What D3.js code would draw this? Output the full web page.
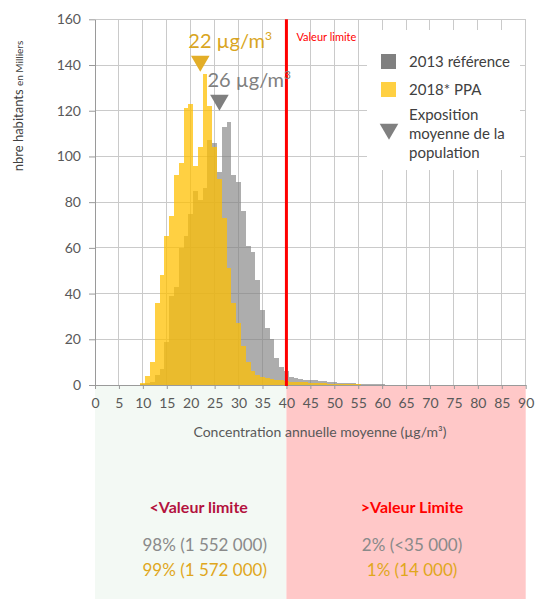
<!DOCTYPE html>
<html>
<head>
<meta charset="utf-8">
<script src="https://cdn.jsdelivr.net/npm/d3@7/dist/d3.min.js"></script>
<style>
  html, body { margin: 0; padding: 0; background: #fff; }
  svg { display: block; font-family: Lato, "Open Sans", sans-serif; }
</style>
</head>
<body>
<svg id="chart" width="536" height="599"></svg>
<script>
// Concentration bins (µg/m³), one per unit, centred on the value
const concentration = [
  0,1,2,3,4,5,6,7,8,9,10,11,12,13,14,15,16,17,18,19,20,21,22,23,24,25,26,27,28,29,
  30,31,32,33,34,35,36,37,38,39,40,41,42,43,44,45,46,47,48,49,50,51,52,53,54,55,56,57,58,59,
  60,61,62,63,64,65,66,67,68,69,70,71,72,73,74,75,76,77,78,79,80,81,82,83,84,85,86,87,88,89,90
];

// Inhabitants (thousands) per bin, 2013 reference
const pop2013 = [
  0,0,0,0,0,0,0,0,0,0,
  0.3,0.8,1.5,4.5,7,19,39,43,60,65,
  75,85,81,86,107,106,93,113,115,92,
  89,76,61,58,46,33,25,20,12,8,
  6,3.5,3,2.6,2.4,2.2,2,1.8,1.6,1.4,
  1.2,1,0.9,0.8,0.7,0.6,0.5,0.5,0.4,0.4,
  0.3,0.2,0.2,0.2,0.2,0.2,0.2,0.2,0.2,0.2,
  0.2,0.2,0.2,0.2,0.2,0.2,0.2,0.2,0.2,0.2,
  0.2,0.2,0.2,0.2,0.2,0.2,0.2,0.2,0.2,0.2,0.2
];

// Inhabitants (thousands) per bin, 2018 with the PPA
const pop2018 = [
  0,0,0,0,0,0,0,0,0,0,
  1,4,10,36,48,65,74,92,97,121,
  123,96,104,136,122,104,90,73,51,36,
  27,17,10,6,4.5,3.5,3,2.5,2.2,2,
  1.8,1.5,1.3,1.2,1.1,1,0.9,0.8,0.7,0.6,
  0.5,0.4,0.4,0.4,0.4,0.4,0.1,0.1,0.1,0.1,
  0.1,0.1,0.1,0.1,0.1,0.1,0.1,0.1,0.1,0.1,
  0.1,0.1,0.1,0.1,0.1,0.1,0.1,0.1,0.1,0.1,
  0.1,0.1,0.1,0.1,0.1,0.1,0.1,0.1,0.1,0.1,0.1
];

// Mean population exposure
const meanLabels = ["2013 référence", "2018* PPA"];
const meanExposure = [26, 22];

const limitValue = 40;
const xTicks = [0,5,10,15,20,25,30,35,40,45,50,55,60,65,70,75,80,85,90];
const yTicks = [0,20,40,60,80,100,120,140,160];

const summaryBelow = ["98% (1 552 000)", "99% (1 572 000)"];
const summaryAbove = ["2% (<35 000)", "1% (14 000)"];

const svg = d3.select("#chart");
const x = d3.scaleLinear().domain([0, 90]).range([95, 525.7]);
const y = d3.scaleLinear().domain([0, 160]).range([385, 19.3]);

const grey = "#7f7f7f", gold = "#ffc000";

// Below / above limit panels
svg.append("rect").attr("x", x(0)).attr("y", y(0)).attr("width", x(limitValue) - x(0))
  .attr("height", 599 - y(0)).attr("fill", "#f3f9f4");
svg.append("rect").attr("x", x(limitValue)).attr("y", y(0)).attr("width", x(90) - x(limitValue))
  .attr("height", 599 - y(0)).attr("fill", "#ffc8c8");

// Grid
const grid = svg.append("g").attr("stroke", "#cacaca").attr("stroke-width", 1).attr("shape-rendering", "crispEdges");
grid.selectAll(".v").data(xTicks.filter(d => d > 0)).join("line")
  .attr("x1", d => x(d)).attr("x2", d => x(d)).attr("y1", y(160)).attr("y2", y(0));
grid.selectAll(".h").data(yTicks.filter(d => d > 0)).join("line")
  .attr("x1", x(0)).attr("x2", x(90)).attr("y1", d => y(d)).attr("y2", d => y(d));

// Histogram bars
function bars(values, color, opacity) {
  svg.append("g").attr("shape-rendering", "crispEdges")
    .selectAll("rect")
    .data(concentration.map((c, i) => ({ c, v: values[i] })).filter(d => d.v > 0))
    .join("rect")
    .attr("x", d => x(Math.max(0, d.c - 0.5)))
    .attr("width", d => x(Math.min(90, d.c + 0.5)) - x(Math.max(0, d.c - 0.5)))
    .attr("y", d => y(d.v))
    .attr("height", d => y(0) - y(d.v))
    .attr("fill", color).attr("fill-opacity", opacity);
}
bars(pop2013, grey, 0.64);
bars(pop2018, gold, 0.74);

// Axes
const xAxis = svg.append("g").attr("transform", `translate(0,${y(0)})`)
  .call(d3.axisBottom(x).tickValues(xTicks).tickSize(4).tickPadding(9).tickSizeOuter(0));
const yAxis = svg.append("g").attr("transform", `translate(${x(0)},0)`)
  .call(d3.axisLeft(y).tickValues(yTicks).tickSize(6).tickPadding(8).tickSizeOuter(0));
[xAxis, yAxis].forEach(a => {
  a.select(".domain").attr("stroke", "#9a9a9a");
  a.selectAll(".tick line").attr("stroke", "#9a9a9a");
  a.selectAll(".tick text").attr("fill", "#595959").attr("font-size", 14).attr("font-family", "Lato, sans-serif");
});

// Limit value line
svg.append("line").attr("x1", x(limitValue)).attr("x2", x(limitValue))
  .attr("y1", y(160)).attr("y2", y(0) + 1).attr("stroke", "#ff0000").attr("stroke-width", 3);
svg.append("text").attr("x", x(limitValue) + 10).attr("y", 41)
  .attr("fill", "#ff0000").attr("font-size", 11).text("Valeur limite");

// Mean exposure markers
const tri = d3.symbol().type(d3.symbolTriangle).size(150);
const meanColors = [grey, "#e3ae28"];
const meanText = ["#7f7f7f", "#d9a521"];
const meanTipY = [107, 68];
meanExposure.forEach((m, i) => {
  svg.append("path").attr("d", tri())
    .attr("transform", `translate(${x(m)},${meanTipY[i] - 7}) rotate(180)`)
    .attr("fill", meanColors[i]);
  const t = svg.append("text").attr("x", x(m) - (i === 0 ? 12 : 12)).attr("y", meanTipY[i] - 20)
    .attr("fill", meanText[i]).attr("font-size", 20);
  t.append("tspan").text(`${m} µg/m`);
  t.append("tspan").attr("dy", -8).attr("font-size", 12).text("3");
});

// Legend
const lg = svg.append("g");
lg.append("rect").attr("x", 367).attr("y", 30).attr("width", 153).attr("height", 140).attr("fill", "#fff");
lg.append("rect").attr("x", 381).attr("y", 54).attr("width", 15).attr("height", 15).attr("fill", "#808080");
lg.append("rect").attr("x", 381).attr("y", 82).attr("width", 15).attr("height", 15).attr("fill", gold).attr("fill-opacity", 0.74);
lg.append("path").attr("d", tri()).attr("transform", "translate(389,129) rotate(180)").attr("fill", "#808080");
const legText = [[meanLabels[0], 67], [meanLabels[1], 95], ["Exposition", 120], ["moyenne de la", 139], ["population", 158]];
lg.selectAll("text.l").data(legText).join("text")
  .attr("x", 409).attr("y", d => d[1]).attr("fill", "#404040").attr("font-size", 15).text(d => d[0]);

// Axis titles
const yt = svg.append("text").attr("transform", "translate(23,106) rotate(-90)")
  .attr("text-anchor", "middle").attr("fill", "#404040");
yt.append("tspan").attr("font-size", 13).text("nbre habitants ");
yt.append("tspan").attr("font-size", 10).text("en Milliers");

svg.append("text").attr("x", 320).attr("y", 437).attr("text-anchor", "middle")
  .attr("fill", "#595959").attr("font-size", 14).text("Concentration annuelle moyenne (µg/m³)");

// Summary panels
const cBelow = (x(0) + x(limitValue)) / 2 + 14;
const cAbove = (x(limitValue) + x(90)) / 2 + 6;
svg.append("text").attr("x", cBelow - 6).attr("y", 513).attr("text-anchor", "middle")
  .attr("fill", "#b3123e").attr("font-weight", "bold").attr("font-size", 16).text("<Valeur limite");
svg.append("text").attr("x", cAbove).attr("y", 513).attr("text-anchor", "middle")
  .attr("fill", "#ff0000").attr("font-weight", "bold").attr("font-size", 16).text(">Valeur Limite");
const sumColors = ["#8a8a8a", "#e0a71c"];
summaryBelow.forEach((s, i) => {
  svg.append("text").attr("x", cBelow).attr("y", 551 + i * 25).attr("text-anchor", "middle")
    .attr("fill", sumColors[i]).attr("font-size", 17).text(s);
});
summaryAbove.forEach((s, i) => {
  svg.append("text").attr("x", cAbove).attr("y", 551 + i * 25).attr("text-anchor", "middle")
    .attr("fill", sumColors[i]).attr("font-size", 17).text(s);
});
</script>
</body>
</html>
